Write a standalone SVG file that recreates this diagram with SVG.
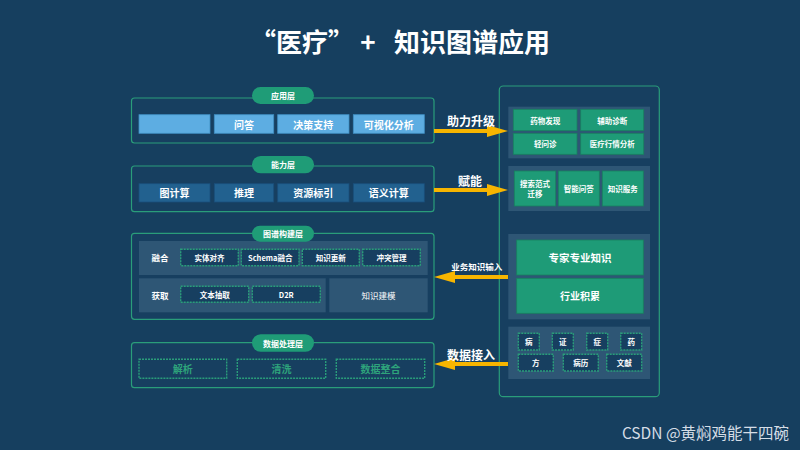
<svg xmlns="http://www.w3.org/2000/svg" width="800" height="450" viewBox="0 0 800 450">
<defs>
<style>
text{font-family:"Noto Sans CJK SC","Noto Sans",sans-serif;fill:#fff;text-anchor:middle;dominant-baseline:central;font-weight:bold}
.layer{fill:#173f60;stroke:#2a9d7a;stroke-width:1.2}
.pill{fill:#1f9c77}
.pt{font-size:8px}
.app{fill:#5dade2;stroke:#3f8fc4;stroke-width:0.8}
.cap{fill:#22618f;stroke:#1a4f7a;stroke-width:0.8}
.row{fill:#2e5675}
.dash{fill:#173f60;stroke:#2a9d7a;stroke-width:1.4;stroke-dasharray:2 1}
.card{fill:#1e9b77;stroke:#17805f;stroke-width:0.8}
.t10{font-size:10px}
.t8{font-size:7.5px}
.t85{font-size:8.5px}
.green{fill:#2ea37b}
.arr{stroke:#f7b500;stroke-width:4;fill:none}
</style>
<marker id="ah" markerUnits="userSpaceOnUse" markerWidth="22" markerHeight="14" refX="0" refY="6" orient="auto" overflow="visible">
<path d="M0,0 L21,6 L0,12 Z" fill="#f7b500"/>
</marker>
</defs>
<rect width="800" height="450" fill="#163f5f"/>
<text x="407" y="40" style="font-size:26px"><tspan x="302">“医疗”</tspan><tspan x="368">+</tspan><tspan x="472">知识图谱应用</tspan></text>

<g id="app-layer">
<rect class="layer" x="131.5" y="98" width="302.5" height="45" rx="3"/>
<rect class="pill" x="252" y="87" width="62" height="17" rx="8.5"/>
<text class="pt" x="283" y="95.5">应用层</text>
<rect class="app" x="139" y="114.7" width="71" height="18.6"/>
<rect class="app" x="214.3" y="114.7" width="59.4" height="18.6"/>
<text class="t10" x="244" y="124">问答</text>
<rect class="app" x="277.7" y="114.7" width="71.3" height="18.6"/>
<text class="t10" x="313.3" y="124">决策支持</text>
<rect class="app" x="353.3" y="114.7" width="71" height="18.6"/>
<text class="t10" x="388.8" y="124">可视化分析</text>
</g>

<g id="capability-layer">
<rect class="layer" x="131.5" y="166" width="302.5" height="45.7" rx="3"/>
<rect class="pill" x="252" y="156" width="62" height="17.3" rx="8.6"/>
<text class="pt" x="283" y="164.6">能力层</text>
<rect class="cap" x="139" y="183.7" width="71" height="18.3"/>
<text class="t10" x="174.5" y="192.8">图计算</text>
<rect class="cap" x="214.3" y="183.7" width="59.4" height="18.3"/>
<text class="t10" x="244" y="192.8">推理</text>
<rect class="cap" x="277.7" y="183.7" width="71.3" height="18.3"/>
<text class="t10" x="313.3" y="192.8">资源标引</text>
<rect class="cap" x="353.3" y="183.7" width="71" height="18.3"/>
<text class="t10" x="388.8" y="192.8">语义计算</text>
</g>

<g id="graph-layer">
<rect class="layer" x="131.5" y="233.3" width="302.5" height="86" rx="3"/>
<rect class="row" x="139" y="241" width="288.7" height="34"/>
<rect class="row" x="139" y="278.3" width="186.7" height="34"/>
<rect class="row" x="329.3" y="278.3" width="98.4" height="34"/>
<rect class="pill" x="252" y="225.7" width="62" height="16" rx="8"/>
<text class="pt" x="283" y="233.7">图谱构建层</text>
<text class="t85" x="160" y="257.3">融合</text>
<rect class="dash" x="180.7" y="249.3" width="57.6" height="16.4"/>
<text class="t8" x="209.5" y="257.5">实体对齐</text>
<rect class="dash" x="241.3" y="249.3" width="57.7" height="16.4"/>
<text class="t8" x="270.2" y="257.5">Schema融合</text>
<rect class="dash" x="302.3" y="249.3" width="57" height="16.4"/>
<text class="t8" x="330.8" y="257.5">知识更新</text>
<rect class="dash" x="362.7" y="249.3" width="57.6" height="16.4"/>
<text class="t8" x="391.5" y="257.5">冲突管理</text>
<text class="t85" x="160" y="294.5">获取</text>
<rect class="dash" x="180.7" y="286.3" width="68" height="16"/>
<text class="t8" x="214.7" y="294.3">文本抽取</text>
<rect class="dash" x="252.3" y="286.3" width="68" height="16"/>
<text class="t8" x="286.3" y="294.3">D2R</text>
<text class="t85" x="378.5" y="295.3" style="font-weight:normal">知识建模</text>
</g>

<g id="data-layer">
<rect class="layer" x="131.5" y="342.7" width="302.5" height="45" rx="3"/>
<rect class="pill" x="252" y="334.3" width="62" height="17.4" rx="8.7"/>
<text class="pt" x="283" y="343">数据处理层</text>
<rect class="dash" x="139" y="359.3" width="87.7" height="19"/>
<text class="t10 green" x="182.8" y="368.8">解析</text>
<rect class="dash" x="237.3" y="359.3" width="88.4" height="19"/>
<text class="t10 green" x="281.5" y="368.8">清洗</text>
<rect class="dash" x="336.3" y="359.3" width="88.4" height="19"/>
<text class="t10 green" x="380.5" y="368.8">数据整合</text>
</g>

<g id="right-panel">
<rect class="layer" x="499.3" y="86" width="160" height="310.7" rx="4"/>
</g>

<g id="apps-panel">
<rect class="row" x="508.3" y="106.7" width="141.7" height="51.6"/>
<rect class="card" x="513.3" y="109.3" width="63.7" height="21.4"/>
<text class="t8" x="545.2" y="120">药物发现</text>
<rect class="card" x="580.7" y="109.3" width="63" height="21.4"/>
<text class="t8" x="612.2" y="120">辅助诊断</text>
<rect class="card" x="513.3" y="133.3" width="63.7" height="21"/>
<text class="t8" x="545.2" y="143.8">轻问诊</text>
<rect class="card" x="580.7" y="133.3" width="63" height="21"/>
<text class="t8" x="612.2" y="143.8">医疗行情分析</text>
</g>

<g id="service-panel">
<rect class="row" x="508.3" y="166" width="141.7" height="45"/>
<rect class="card" x="514.3" y="171" width="41.4" height="35"/>
<text class="t8" x="535" y="183.5">搜索范式</text>
<text class="t8" x="535" y="193.5">迁移</text>
<rect class="card" x="558.3" y="171" width="41" height="35"/>
<text class="t8" x="578.8" y="188.5">智能问答</text>
<rect class="card" x="602.3" y="171" width="41" height="35"/>
<text class="t8" x="622.8" y="188.5">知识服务</text>
</g>

<g id="expert-panel">
<rect class="row" x="508.3" y="234" width="141.7" height="85.3"/>
<rect class="card" x="516.7" y="240" width="126.6" height="35"/>
<text x="580" y="257.5" style="font-size:10.5px">专家专业知识</text>
<rect class="card" x="516.7" y="278.3" width="126.6" height="35"/>
<text class="t10" x="580" y="295.8">行业积累</text>
</g>

<g id="data-panel">
<rect class="row" x="508.3" y="326.7" width="141.7" height="52.3"/>
<rect class="dash" x="518.3" y="333.3" width="21" height="16.7"/>
<text class="t8" x="528.8" y="341.7">病</text>
<rect class="dash" x="552.3" y="333.3" width="21" height="16.7"/>
<text class="t8" x="562.8" y="341.7">证</text>
<rect class="dash" x="586.7" y="333.3" width="21" height="16.7"/>
<text class="t8" x="597.2" y="341.7">症</text>
<rect class="dash" x="620.7" y="333.3" width="21" height="16.7"/>
<text class="t8" x="631.2" y="341.7">药</text>
<rect class="dash" x="518.3" y="354.3" width="35" height="16.7"/>
<text class="t8" x="535.8" y="362.7">方</text>
<rect class="dash" x="563.3" y="354.3" width="35" height="16.7"/>
<text class="t8" x="580.8" y="362.7">病历</text>
<rect class="dash" x="606.7" y="354.3" width="35" height="16.7"/>
<text class="t8" x="624.2" y="362.7">文献</text>
</g>

<g id="connectors">
<line class="arr" x1="434" y1="131" x2="487" y2="131" marker-end="url(#ah)"/>
<text x="471" y="120.5" style="font-size:12px">助力升级</text>
<line class="arr" x1="434" y1="190" x2="487" y2="190" marker-end="url(#ah)"/>
<text x="470" y="180.5" style="font-size:12px">赋能</text>
<line class="arr" x1="508" y1="277" x2="455" y2="277" marker-end="url(#ah)"/>
<text x="476.7" y="265.8" style="font-size:8.5px">业务知识输入</text>
<line class="arr" x1="508" y1="364" x2="455" y2="364" marker-end="url(#ah)"/>
<text x="471" y="354" style="font-size:12px">数据接入</text>
</g>

<text x="705.5" y="432" style="font-size:15.5px;font-weight:normal;fill:#d5dde6">CSDN @黄焖鸡能干四碗</text>
</svg>
